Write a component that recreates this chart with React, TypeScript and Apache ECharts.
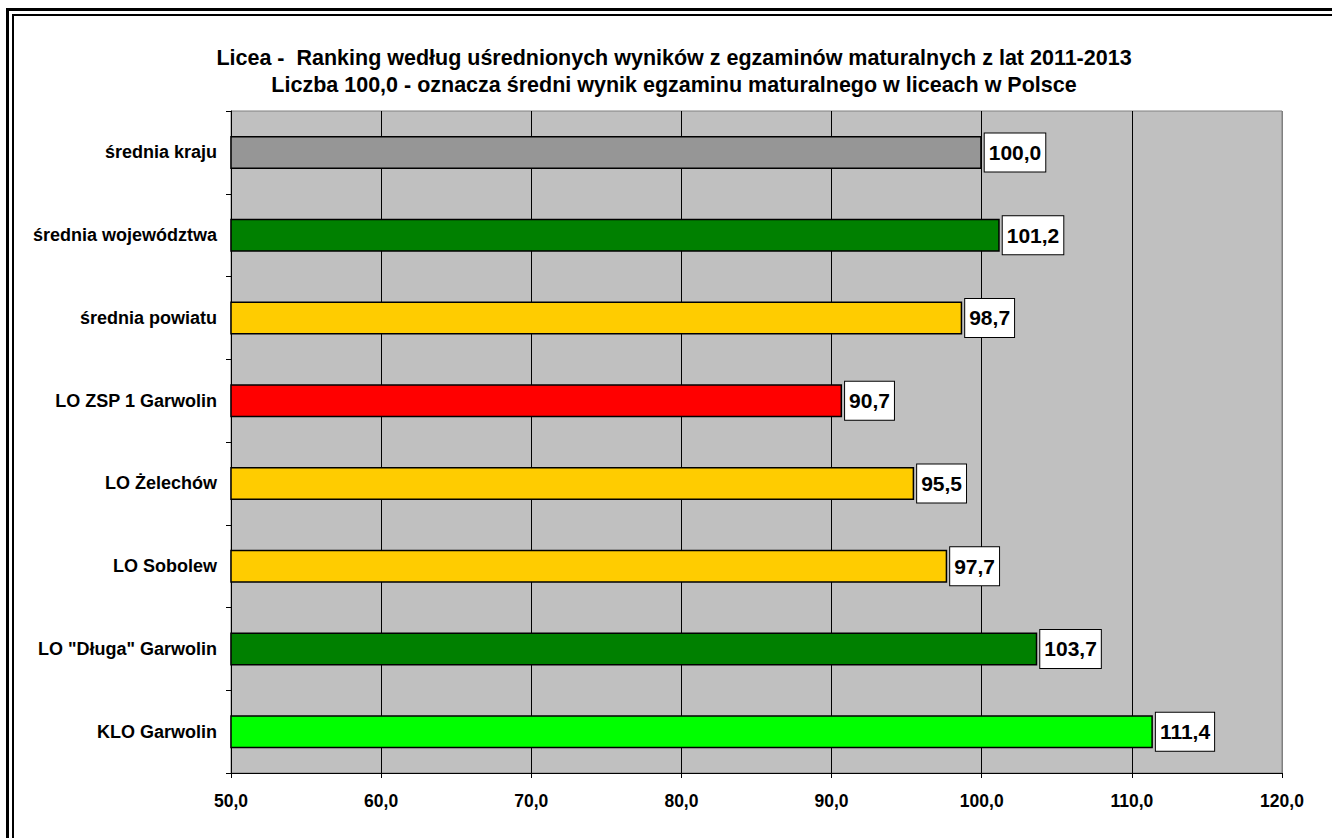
import React, { useEffect, useRef } from "react";
import * as echarts from "echarts";

const categories = [
  "średnia kraju",
  "średnia województwa",
  "średnia powiatu",
  "LO ZSP 1 Garwolin",
  "LO Żelechów",
  "LO Sobolew",
  'LO "Długa" Garwolin',
  "KLO Garwolin",
];
const values = [100.0, 101.2, 98.7, 90.7, 95.5, 97.7, 103.7, 111.4];
const barColors = ["#969696", "#008000", "#FFCC00", "#FF0000", "#FFCC00", "#FFCC00", "#008000", "#00FF00"];
const titleLines = [
  "Licea -  Ranking według uśrednionych wyników z egzaminów maturalnych z lat 2011-2013",
  "Liczba 100,0 - oznacza średni wynik egzaminu maturalnego w liceach w Polsce",
];
const axisMin = 50;
const axisMax = 120;
const axisStep = 10;

const FONT = "Arial, 'Liberation Sans', sans-serif";
const fmt = (v: number) => v.toFixed(1).replace(".", ",");

export default function App() {
  const ref = useRef<HTMLDivElement>(null);
  useEffect(() => {
    if (!ref.current) return;
    const chart = echarts.init(ref.current, undefined, { renderer: "svg" });
    const splitColors = [] as string[];
    for (let v = axisMin; v <= axisMax; v += axisStep) splitColors.push(v === axisMax ? "#808080" : "#000000");
    chart.setOption({
      animation: false,
      backgroundColor: "#ffffff",
      title: {
        text: titleLines.join("\n"),
        left: 674,
        textAlign: "center",
        top: 44,
        padding: 0,
        textStyle: { fontFamily: FONT, fontSize: 21.5, fontWeight: "bold", color: "#000", lineHeight: 27 },
      },
      graphic: [
        { type: "rect", shape: { x: 7.5, y: 9.5, width: 1400, height: 900 }, style: { fill: "none", stroke: "#000", lineWidth: 3 }, silent: true },
        { type: "rect", shape: { x: 13, y: 15, width: 1400, height: 900 }, style: { fill: "none", stroke: "#000", lineWidth: 2 }, silent: true },
      ],
      grid: {
        left: 231,
        right: 50,
        top: 111,
        bottom: 65,
        show: true,
        backgroundColor: "#C0C0C0",
        borderColor: "#808080",
        borderWidth: 1,
      },
      xAxis: {
        type: "value",
        min: axisMin,
        max: axisMax,
        interval: axisStep,
        axisLine: { show: true, lineStyle: { color: "#000", width: 1 } },
        axisTick: { show: true, length: 5, lineStyle: { color: "#000" } },
        axisLabel: {
          formatter: (v: number) => fmt(v),
          fontFamily: FONT,
          fontSize: 17.5,
          fontWeight: "bold",
          color: "#000",
          margin: 19,
        },
        splitLine: { show: true, lineStyle: { color: splitColors, width: 1 } },
      },
      yAxis: {
        type: "category",
        data: categories,
        inverse: true,
        axisLine: { show: true, lineStyle: { color: "#000", width: 1 } },
        axisTick: { show: true, length: 5, lineStyle: { color: "#000" } },
        axisLabel: {
          fontFamily: FONT,
          fontSize: 18,
          fontWeight: "bold",
          color: "#000",
          margin: 14,
        },
        splitLine: { show: false },
      },
      series: [
        {
          type: "bar",
          data: values.map((v, i) => ({ value: v, itemStyle: { color: barColors[i] } })),
          barWidth: 33,
          itemStyle: { borderColor: "#000", borderWidth: 1.5 },
          label: {
            show: true,
            position: "right",
            distance: 3,
            formatter: (p: any) => fmt(p.value),
            fontFamily: FONT,
            fontSize: 21,
            fontWeight: "bold",
            color: "#000",
            backgroundColor: "#fff",
            borderColor: "#000",
            borderWidth: 1,
            padding: [8, 4, 8, 4],
            lineHeight: 22,
          },
        },
      ],
    });
    return () => chart.dispose();
  }, []);
  return (
    <div
      ref={ref}
      style={{ position: "absolute", left: 0, top: 0, width: 1332, height: 838 }}
    />
  );
}
